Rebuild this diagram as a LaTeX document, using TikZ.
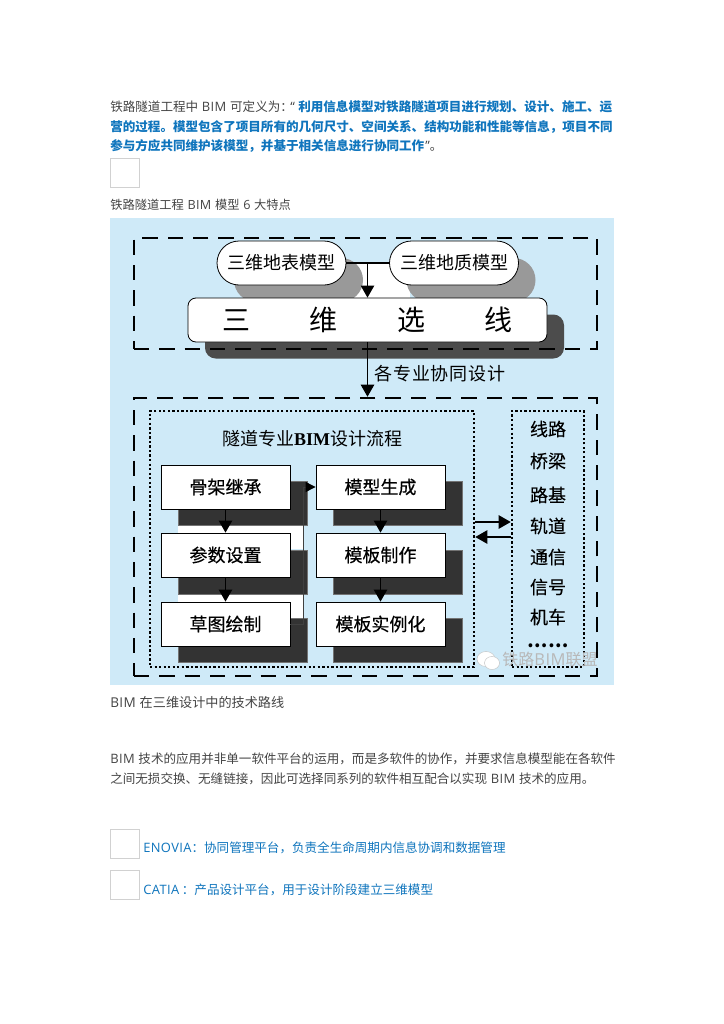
\documentclass[tikz,border=0pt]{standalone}
\usepackage{fontspec}
\usetikzlibrary{arrows.meta}
\setmainfont{Noto Sans CJK SC}
\newfontfamily\cj{Noto Sans CJK SC}
\newfontfamily\lat[LetterSpace=3,Scale=1.03]{Open Sans}
\newfontfamily\serifb{Liberation Serif}
\newcommand{\la}[1]{{\lat #1}}
\def\pxu{0.75pt}
\definecolor{bodyc}{HTML}{444444}
\definecolor{bluec}{HTML}{0F75BD}
\definecolor{bgc}{HTML}{CFEAF8}
\tikzset{
  x=0.75pt,y=-0.75pt,
  body/.style={anchor=west,inner sep=0pt,text=bodyc,font=\fontsize{9.42pt}{11pt}\selectfont},
  bluet/.style={body,text=bluec},
  bluebold/.style={body,text=bluec,font=\fontsize{9.42pt}{11pt}\selectfont\bfseries},
  emptybox/.style={draw=black!18,line width=0.75pt,fill=white,minimum width=29*\pxu,minimum height=29*\pxu,inner sep=0pt,anchor=north west},
  dashbox/.style={draw=black,line width=1.9pt,dash pattern=on 11.5pt off 7.5pt,inner sep=0pt,fill=none},
  dotbox/.style={draw=black,line width=1.9pt,dash pattern=on 1.7pt off 1.7pt,inner sep=0pt,fill=none},
  pill/.style={draw=black,line width=0.6pt,fill=white,rounded corners=16.5pt,minimum width=129*\pxu,minimum height=44*\pxu,inner sep=0pt,font=\fontsize{13.5pt}{16pt}\selectfont},
  pillsh/.style={fill=black!40!white,draw=none,rounded corners=16.5pt,minimum width=129*\pxu,minimum height=44*\pxu,inner sep=0pt},
  stepbox/.style={draw=black,line width=0.6pt,fill=white,minimum width=129*\pxu,minimum height=44*\pxu,inner sep=0pt,font=\fontsize{13.5pt}{16pt}\selectfont\addfontfeature{FakeBold=0.4}},
  stepsh/.style={fill=black!80,draw=black!55,line width=0.3pt,minimum width=129*\pxu,minimum height=44*\pxu,inner sep=0pt},
  conn/.style={draw=black,line width=1pt},
  arr/.style={conn,-{Triangle[length=9pt,width=10pt]}},
  side/.style={inner sep=0pt,font=\fontsize{13.5pt}{16pt}\selectfont\addfontfeature{FakeBold=0.2}},
}
\begin{document}
\begin{tikzpicture}
\useasboundingbox[fill=white] (0,0) rectangle (724,1024);
% text
\node[body] (t1a) at (110,106.5) {铁路隧道工程中\la{ BIM }可定义为：};
\node[body] (t1q) at (290,106.5) {\la{“}};
\node[bluebold] (t1b) at (298,106.5) {利用信息模型对铁路隧道项目进行规划、设计、施工、运};
\node[bluebold] (t2) at (110,127) {营的过程。模型包含了项目所有的几何尺寸、空间关系、结构功能和性能等信息，项目不同};
\node[bluebold] (t3a) at (110,146) {参与方应共同维护该模型，并基于相关信息进行协同工作};
\node[body] (t3b) at (425,146) {\la{”}。};
\node[emptybox] (e1) at (109.5,157.5) {};
\node[body,font=\fontsize{9.2pt}{11pt}\selectfont] (t4) at (110,204.5) {铁路隧道工程\la{ BIM }模型\la{ 6 }大特点};
% figure background
\fill[bgc] (110,218) rectangle (614,685);
% white areas behind flow
\fill[white] (346,263) rectangle (410,298);
\fill[white] (178,525) rectangle (303,533);
\fill[white] (290,525) rectangle (303,549);
\fill[white] (178,594) rectangle (303,602);
\fill[white] (290,594) rectangle (303,618);
% shadows
\node[pillsh] (p1s) at (298.5,280) {};
\node[pillsh] (p2s) at (471,280) {};
\node[pillsh,rounded corners=8pt,minimum width=359*\pxu,minimum height=44*\pxu,fill=black!70] (sels) at (384.5,336.5) {};
\node[dashbox,minimum width=463*\pxu,minimum height=111*\pxu] (top) at (365.5,293.5) {};
\node[pill] (p1) at (281.5,263) {三维地表模型};
\node[pill] (p2) at (454,263) {三维地质模型};
\node[pill,rounded corners=6pt,minimum width=359*\pxu,font=\fontsize{21pt}{24pt}\selectfont] (sel) at (367.5,320) {三\hspace{44.5pt}维\hspace{44.5pt}选\hspace{44.5pt}线};
\draw[conn] (p1.east) -- (p2.west);
\draw[arr] (p1.east -| sel.north) -- (sel.north);
\node[dashbox,minimum width=463*\pxu,minimum height=278*\pxu] (low) at (365.5,537) {};
\draw[arr] (sel.south) -- (sel.south |- low.north);
\node[inner sep=0pt,font=\fontsize{13.5pt}{16pt}\selectfont\addfontfeature{LetterSpace=5}] (xt) at (440,374) {各专业协同设计};
\node[dotbox,minimum width=324*\pxu,minimum height=256*\pxu] (flow) at (312,539) {};
\node[dotbox,minimum width=72*\pxu,minimum height=256*\pxu] (others) at (548,539) {};
\node[inner sep=0pt,font=\fontsize{13.5pt}{16pt}\selectfont] (ft) at (312,439) {隧道专业{\serifb\bfseries BIM}设计流程};
% step shadows
\node[stepsh] (a1s) at (242.5,503.5) {};
\node[stepsh] (a2s) at (242.5,572) {};
\node[stepsh] (a3s) at (242.5,640.5) {};
\node[stepsh] (b1s) at (397.5,503.5) {};
\node[stepsh] (b2s) at (397.5,572) {};
\node[stepsh] (b3s) at (397.5,640.5) {};
% steps
\node[stepbox] (a1) at (225.5,487) {骨架继承};
\node[stepbox] (a2) at (225.5,555) {参数设置};
\node[stepbox] (a3) at (225.5,624) {草图绘制};
\node[stepbox] (b1) at (380.5,487) {模型生成};
\node[stepbox] (b2) at (380.5,555) {模板制作};
\node[stepbox] (b3) at (380.5,624) {模板实例化};
\draw[arr] (a1) -- (a2);
\draw[arr] (a2) -- (a3);
\draw[arr] (b1) -- (b2);
\draw[arr] (b2) -- (b3);
\coordinate (bend) at (303,624);
\draw[draw=black!75,line width=0.7pt,-{Triangle[length=7.5pt,width=7.5pt,color=black]}] (a3.east) -- (bend) -- (bend |- b1.west) -- (b1.west);
\coordinate (f1) at (flow.east |- 0,522);
\coordinate (f2) at (flow.east |- 0,537);
\draw[arr] (f1) -- (f1 -| others.west);
\draw[arr] (f2 -| others.west) -- (f2);
% side list
\node[side] (s1) at (548,429) {线路};
\node[side] (s2) at (548,461) {桥梁};
\node[side] (s3) at (548,495) {路基};
\node[side] (s4) at (548,526) {轨道};
\node[side] (s5) at (548,557) {通信};
\node[side] (s6) at (548,587) {信号};
\node[side] (s7) at (548,617) {机车};
\node[side,font=\fontsize{13.5pt}{16pt}\selectfont\bfseries] (s8) at (548,646) {……};
% watermark
\fill[white,draw=black!25,line width=0.3pt] (486,659) ellipse (9 and 7.5);
\fill[white,draw=black!25,line width=0.3pt] (492,663) ellipse (7.5 and 6.5);
\node[inner sep=0pt,text=black!28,font=\fontsize{12pt}{14pt}\selectfont] (wm) at (550,659) {铁路{\lat BIM}联盟};
% lower text
\node[body,font=\fontsize{9.85pt}{11pt}\selectfont] (t5) at (110,702) {\la{BIM }在三维设计中的技术路线};
\node[body] (t6) at (110,759) {\la{BIM }技术的应用并非单一软件平台的运用，而是多软件的协作，并要求信息模型能在各软件};
\node[body] (t7) at (110,779) {之间无损交换、无缝链接，因此可选择同系列的软件相互配合以实现\la{ BIM }技术的应用。};
\node[emptybox] (e2) at (109.5,829) {};
\node[bluet] (t8) at (143,848) {\la{ENOVIA}：协同管理平台，负责全生命周期内信息协调和数据管理};
\node[emptybox] (e3) at (109.5,870) {};
\node[bluet] (t9) at (143,890) {\la{CATIA}\hspace{2pt}：产品设计平台，用于设计阶段建立三维模型};
\end{tikzpicture}
\end{document}
